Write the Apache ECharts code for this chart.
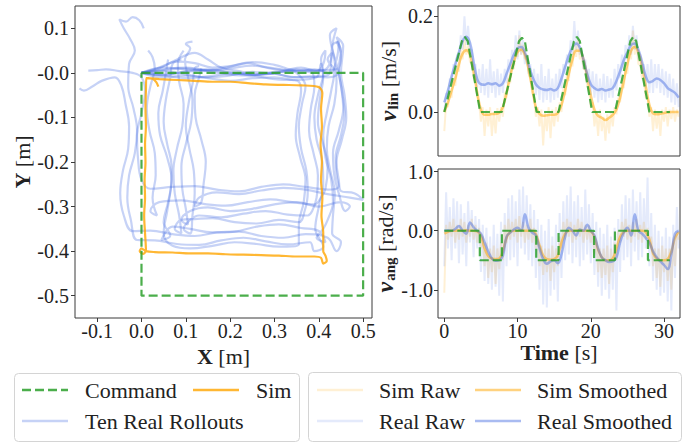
<!DOCTYPE html>
<html><head><meta charset="utf-8">
<script src="https://cdn.jsdelivr.net/npm/echarts@6/dist/echarts.min.js"></script>
<style>html,body{margin:0;padding:0;background:#fff}#c{width:697px;height:443px}</style>
</head><body><div id="c"></div>
<script>
// ---------- tick values / labels ----------
const XY_X_TICKS = [-0.1, 0, 0.1, 0.2, 0.3, 0.4, 0.5];
const XY_X_LABELS = ['-0.1', '0.0', '0.1', '0.2', '0.3', '0.4', '0.5'];
const XY_Y_TICKS = [0.1, 0, -0.1, -0.2, -0.3, -0.4, -0.5];
const XY_Y_LABELS = ['0.1', '-0.0', '-0.1', '-0.2', '-0.3', '-0.4', '-0.5'];
const TIME_TICKS = [0, 10, 20, 30];
const TIME_LABELS = ['0', '10', '20', '30'];
const VLIN_TICKS = [0, 0.2];
const VLIN_LABELS = ['0.0', '0.2'];
const VANG_TICKS = [1, 0, -1];
const VANG_LABELS = ['1.0', '0.0', '-1.0'];

// ---------- XY trajectories ----------
const commandXY = [[0,0],[0.5,0],[0.5,-0.5],[0,-0.5],[0,0]];
const simXY = [[0.011,-0.012],[0.04,-0.014],[0.08,-0.016],[0.12,-0.018],[0.16,-0.02],[0.2,-0.02],[0.24,-0.023],[0.28,-0.026],[0.32,-0.027],[0.36,-0.028],[0.4,-0.032],[0.408,-0.045],[0.405,-0.08],[0.407,-0.12],[0.404,-0.16],[0.407,-0.2],[0.405,-0.24],[0.408,-0.28],[0.406,-0.32],[0.41,-0.36],[0.41,-0.4],[0.415,-0.41],[0.418,-0.422],[0.41,-0.428],[0.405,-0.415],[0.39,-0.412],[0.35,-0.412],[0.31,-0.41],[0.27,-0.409],[0.23,-0.408],[0.19,-0.407],[0.15,-0.405],[0.11,-0.405],[0.07,-0.403],[0.03,-0.402],[0.01,-0.4],[0.0,-0.394],[-0.004,-0.4],[0.004,-0.406],[0.01,-0.398],[0.008,-0.36],[0.006,-0.32],[0.008,-0.28],[0.007,-0.24],[0.009,-0.2],[0.008,-0.16],[0.01,-0.12],[0.009,-0.08],[0.01,-0.04],[0.011,-0.012],[0.025,-0.013],[0.034,-0.022],[0.038,-0.031]];
const realRollout1 = [[0,0],[0.05,0.006],[0.1,0.01],[0.15,0.004],[0.2,-0.004],[0.25,-0.006],[0.3,0.0],[0.35,0.008],[0.4,0.004],[0.42,0.012],[0.43,0.045],[0.42,0.03],[0.435,0.005],[0.428,-0.04],[0.418,-0.09],[0.41,-0.14],[0.415,-0.19],[0.428,-0.24],[0.432,-0.29],[0.42,-0.33],[0.41,-0.35],[0.395,-0.37],[0.415,-0.38],[0.4,-0.355],[0.36,-0.348],[0.31,-0.34],[0.26,-0.345],[0.21,-0.356],[0.16,-0.358],[0.11,-0.35],[0.07,-0.345],[0.045,-0.375],[0.065,-0.365],[0.05,-0.335],[0.06,-0.29],[0.068,-0.24],[0.058,-0.19],[0.042,-0.14],[0.038,-0.09],[0.048,-0.04],[0.055,0.0],[0.06,0.03]];
const realRollout2 = [[0,0],[0.04,0.012],[0.08,0.025],[0.12,0.022],[0.16,0.012],[0.2,0.015],[0.25,0.024],[0.3,0.018],[0.35,0.006],[0.39,0.008],[0.425,0.0],[0.44,0.03],[0.445,0.07],[0.43,0.06],[0.44,0.02],[0.45,-0.03],[0.455,-0.08],[0.445,-0.13],[0.432,-0.18],[0.435,-0.23],[0.445,-0.27],[0.46,-0.31],[0.47,-0.3],[0.45,-0.29],[0.4,-0.3],[0.35,-0.29],[0.3,-0.295],[0.25,-0.305],[0.2,-0.31],[0.15,-0.302],[0.11,-0.31],[0.09,-0.33],[0.105,-0.34],[0.1,-0.305],[0.092,-0.26],[0.09,-0.21],[0.1,-0.16],[0.112,-0.11],[0.115,-0.06],[0.105,-0.01],[0.098,0.03],[0.11,0.055],[0.1,0.065],[0.115,0.07]];
const realRollout3 = [[0,0],[0.05,-0.006],[0.1,-0.012],[0.15,-0.008],[0.2,-0.002],[0.25,-0.006],[0.3,-0.014],[0.35,-0.016],[0.395,-0.01],[0.405,0.02],[0.41,0.0],[0.398,-0.05],[0.39,-0.1],[0.395,-0.15],[0.408,-0.2],[0.41,-0.25],[0.4,-0.3],[0.392,-0.35],[0.41,-0.39],[0.39,-0.4],[0.38,-0.38],[0.33,-0.385],[0.28,-0.378],[0.23,-0.37],[0.18,-0.376],[0.13,-0.386],[0.08,-0.384],[0.03,-0.376],[-0.01,-0.375],[-0.024,-0.33],[-0.032,-0.28],[-0.028,-0.23],[-0.015,-0.18],[-0.01,-0.13],[-0.018,-0.08],[-0.03,-0.03],[-0.028,0.02],[-0.015,0.05],[-0.025,0.075],[-0.04,0.1],[-0.05,0.12],[-0.035,0.115],[-0.02,0.125],[-0.005,0.118],[0.005,0.1]];
const realRollout4 = [[0,0],[0.04,0.01],[0.08,0.03],[0.12,0.045],[0.15,0.03],[0.18,0.012],[0.22,0.004],[0.26,-0.004],[0.3,-0.002],[0.34,-0.01],[0.38,-0.008],[0.42,-0.01],[0.445,0.0],[0.45,0.04],[0.44,0.08],[0.455,0.06],[0.45,0.0],[0.458,-0.05],[0.462,-0.1],[0.452,-0.15],[0.44,-0.2],[0.445,-0.24],[0.45,-0.265],[0.48,-0.27],[0.5,-0.285],[0.47,-0.28],[0.42,-0.272],[0.37,-0.262],[0.32,-0.258],[0.27,-0.264],[0.22,-0.272],[0.17,-0.268],[0.13,-0.28],[0.12,-0.3],[0.135,-0.29],[0.14,-0.25],[0.145,-0.2],[0.135,-0.15],[0.122,-0.1],[0.12,-0.05],[0.13,-0.01],[0.135,0.01]];
const realRollout5 = [[0,0],[0.05,-0.005],[0.1,0.004],[0.15,0.008],[0.2,0.002],[0.25,-0.004],[0.3,0.0],[0.34,0.004],[0.36,-0.01],[0.37,-0.03],[0.362,-0.07],[0.355,-0.12],[0.36,-0.17],[0.372,-0.22],[0.375,-0.27],[0.368,-0.31],[0.355,-0.335],[0.31,-0.33],[0.26,-0.338],[0.21,-0.335],[0.16,-0.326],[0.12,-0.328],[0.09,-0.33],[0.075,-0.35],[0.09,-0.36],[0.085,-0.32],[0.075,-0.27],[0.072,-0.22],[0.08,-0.17],[0.092,-0.12],[0.095,-0.07],[0.085,-0.02],[0.082,0.02],[0.095,0.05]];
const realRollout6 = [[0,0],[0.05,0.004],[0.1,-0.004],[0.15,-0.01],[0.2,-0.006],[0.25,0.002],[0.3,-0.002],[0.35,-0.01],[0.4,-0.008],[0.425,0.0],[0.43,0.06],[0.44,0.1],[0.425,0.085],[0.435,0.03],[0.44,-0.02],[0.435,-0.07],[0.422,-0.12],[0.418,-0.17],[0.426,-0.22],[0.436,-0.27],[0.432,-0.32],[0.43,-0.36],[0.45,-0.38],[0.44,-0.4],[0.42,-0.37],[0.37,-0.362],[0.32,-0.37],[0.27,-0.366],[0.22,-0.356],[0.17,-0.358],[0.12,-0.366],[0.07,-0.362],[0.02,-0.354],[-0.02,-0.355],[-0.04,-0.32],[-0.048,-0.27],[-0.042,-0.22],[-0.03,-0.17],[-0.028,-0.12],[-0.036,-0.07],[-0.045,-0.03],[-0.06,-0.01],[-0.09,-0.018],[-0.11,-0.03],[-0.13,-0.04],[-0.14,-0.035]];
const realRollout7 = [[0,0],[0.05,0.008],[0.1,0.012],[0.15,0.006],[0.2,0.014],[0.24,0.022],[0.28,0.012],[0.32,0.006],[0.36,0.012],[0.395,0.004],[0.41,0.02],[0.415,0.05],[0.405,0.03],[0.41,-0.01],[0.402,-0.06],[0.398,-0.11],[0.41,-0.16],[0.42,-0.21],[0.415,-0.26],[0.405,-0.28],[0.39,-0.295],[0.34,-0.29],[0.29,-0.284],[0.24,-0.29],[0.19,-0.298],[0.14,-0.294],[0.09,-0.286],[0.04,-0.29],[0.02,-0.31],[0.035,-0.32],[0.025,-0.28],[0.032,-0.23],[0.03,-0.18],[0.018,-0.13],[0.012,-0.08],[0.02,-0.03],[0.03,0.01],[0.025,0.035],[0.015,0.05]];
const realRollout8 = [[0,0],[0.05,-0.004],[0.1,0.002],[0.15,0.006],[0.2,0.0],[0.25,-0.004],[0.3,0.002],[0.35,0.004],[0.385,0.0],[0.39,-0.03],[0.382,-0.08],[0.378,-0.13],[0.388,-0.18],[0.398,-0.23],[0.395,-0.28],[0.385,-0.31],[0.375,-0.32],[0.33,-0.318],[0.28,-0.31],[0.23,-0.316],[0.18,-0.324],[0.13,-0.32],[0.11,-0.33],[0.095,-0.35],[0.11,-0.36],[0.115,-0.32],[0.12,-0.27],[0.118,-0.22],[0.108,-0.17],[0.1,-0.12],[0.106,-0.07],[0.116,-0.02],[0.12,0.01],[0.13,0.015]];
const realRollout9 = [[0,0],[0.05,0.012],[0.1,0.008],[0.15,0.004],[0.2,0.01],[0.25,0.016],[0.3,0.01],[0.35,0.004],[0.4,0.006],[0.44,0.008],[0.45,0.04],[0.44,0.07],[0.45,0.05],[0.445,0.01],[0.452,-0.04],[0.458,-0.09],[0.45,-0.14],[0.438,-0.19],[0.44,-0.23],[0.445,-0.255],[0.42,-0.262],[0.37,-0.256],[0.32,-0.25],[0.27,-0.256],[0.22,-0.266],[0.17,-0.262],[0.12,-0.254],[0.07,-0.256],[0.02,-0.26],[0.0,-0.24],[-0.008,-0.19],[-0.01,-0.14],[0.0,-0.09],[0.008,-0.04],[0.0,-0.01],[-0.02,0.0],[-0.05,0.004],[-0.08,0.008],[-0.1,0.006],[-0.12,0.005]];
const realRollout10 = [[0,0],[0.05,-0.01],[0.1,-0.006],[0.15,-0.012],[0.2,-0.018],[0.25,-0.012],[0.3,-0.01],[0.34,-0.016],[0.355,-0.02],[0.36,-0.04],[0.352,-0.09],[0.348,-0.14],[0.358,-0.19],[0.37,-0.24],[0.366,-0.29],[0.355,-0.34],[0.355,-0.385],[0.31,-0.39],[0.26,-0.384],[0.21,-0.38],[0.16,-0.388],[0.11,-0.394],[0.07,-0.388],[0.05,-0.36],[0.058,-0.31],[0.066,-0.26],[0.068,-0.21],[0.058,-0.16],[0.05,-0.11],[0.055,-0.06],[0.065,-0.01],[0.07,0.02],[0.09,0.03]];

// ---------- time series ----------
const RAW_DT = 0.25;     // sampling step of raw signals [s]
const SMOOTH_DT = 0.5;   // sampling step of smoothed signals [s]
const commandVlin = [[0,0],[2.4,0.148],[2.8,0.157],[3.2,0.148],[4.9,0],[7.86,0],[10.2,0.148],[10.6,0.155],[11.0,0.148],[12.6,0],[15.6,0],[17.7,0.148],[18.1,0.157],[18.5,0.148],[20.2,0],[23.3,0],[25.4,0.148],[25.8,0.157],[26.2,0.148],[28.0,0],[30.8,0]];
const commandVang = [[0,0],[4.85,0],[4.85,-0.5],[7.86,-0.5],[7.86,0],[12.55,0],[12.55,-0.5],[15.6,-0.5],[15.6,0],[20.45,0],[20.45,-0.5],[23.3,-0.5],[23.3,0],[27.8,0],[27.8,-0.5],[30.8,-0.5]];
const simVlinRaw = [-0.04,0.02,0.01,0.04,0.03,0.07,0.055,0.09,0.085,0.13,
0.11,0.15,0.12,0.14,0.105,0.1,0.07,0.075,0.03,0.02,
-0.02,0.01,-0.05,0.005,-0.03,0.01,-0.05,0.0,-0.045,0.008,
-0.02,0.01,-0.01,0.04,0.03,0.07,0.06,0.1,0.09,0.13,
0.115,0.16,0.12,0.14,0.11,0.12,0.08,0.07,0.04,0.03,
-0.01,0.01,-0.03,0.005,-0.07,0.0,-0.04,0.01,-0.055,0.005,
-0.03,0.01,-0.02,0.02,0.0,0.05,0.035,0.08,0.065,0.11,
0.095,0.14,0.115,0.15,0.11,0.12,0.09,0.09,0.055,0.05,
0.01,0.02,-0.03,0.0,-0.05,0.005,-0.04,-0.01,-0.06,-0.005,
-0.045,0.0,-0.03,0.01,-0.005,0.03,0.02,0.06,0.05,0.09,
0.08,0.13,0.11,0.17,0.12,0.14,0.1,0.1,0.07,0.065,
0.03,0.03,-0.01,0.01,-0.04,0.005,-0.035,0.0,-0.05,0.005,
-0.02,0.01,-0.03,0.005,-0.015,0.01,-0.02,0.005,-0.01];
const realVlinRaw = [0.0,0.04,0.03,0.07,0.06,0.1,0.09,0.12,0.11,0.16,
0.13,0.2,0.14,0.18,0.13,0.13,0.09,0.1,0.05,0.09,
0.04,0.1,0.035,0.09,0.03,0.11,0.04,0.085,0.03,0.09,
0.035,0.08,0.04,0.09,0.06,0.11,0.08,0.13,0.1,0.16,
0.11,0.17,0.12,0.15,0.1,0.12,0.08,0.1,0.05,0.09,
0.035,0.08,0.025,0.1,0.02,0.075,0.025,0.09,0.02,0.07,
0.025,0.08,0.03,0.09,0.05,0.1,0.08,0.12,0.1,0.15,
0.12,0.19,0.13,0.17,0.12,0.13,0.09,0.11,0.06,0.09,
0.035,0.085,0.03,0.08,0.02,0.07,0.025,0.08,0.02,0.075,
0.03,0.07,0.03,0.09,0.045,0.1,0.07,0.12,0.09,0.14,
0.11,0.16,0.12,0.18,0.13,0.16,0.11,0.12,0.08,0.1,
0.05,0.1,0.04,0.11,0.04,0.1,0.05,0.1,0.04,0.09,
0.035,0.085,0.03,0.08,0.02,0.07,0.015,0.06,0.01];
const simVangRaw = [-1.05,0.1,-0.15,0.15,-0.1,0.2,-0.2,0.1,-0.15,0.2,
-0.1,0.15,-0.2,0.1,-0.1,0.2,-0.15,0.1,-0.2,0.05,
-0.3,-0.1,-0.6,-0.2,-0.8,-0.3,-0.7,-0.25,-0.9,-0.3,
-0.65,-0.2,-0.5,0.1,-0.2,0.2,-0.15,0.15,-0.1,0.2,
-0.2,0.25,-0.1,0.15,-0.2,0.1,-0.15,0.2,-0.2,0.05,
-0.3,-0.15,-0.6,-0.25,-0.75,-0.3,-0.7,-0.3,-0.85,-0.25,
-0.7,-0.3,-0.6,-0.1,-0.3,0.15,-0.15,0.2,-0.1,0.15,
-0.2,0.1,-0.15,0.2,-0.1,0.15,-0.2,0.1,-0.15,0.1,
-0.2,0.0,-0.4,-0.2,-0.7,-0.3,-0.8,-0.3,-0.75,-0.25,
-0.9,-0.3,-0.7,-0.2,-0.5,0.0,-0.2,0.15,-0.1,0.2,
-0.15,0.1,-0.2,0.15,-0.1,0.2,-0.15,0.1,-0.2,0.15,
-0.15,0.05,-0.3,-0.1,-0.6,-0.3,-0.8,-0.3,-0.95,-0.25,
-0.7,-0.3,-0.85,-0.3,-1.0,-0.2,-0.6,-0.05,-0.15];
const realVangRaw = [-0.6,0.65,-0.3,0.4,-0.5,0.55,-0.3,0.5,-0.55,0.45,
-0.4,0.3,-0.6,0.5,-0.2,0.35,-0.45,0.25,-0.3,0.2,
-0.7,0.1,-0.85,0.05,-0.9,-0.1,-1.0,0.1,-0.95,-0.05,
-1.1,0.15,-1.2,0.3,-0.6,0.55,-0.5,0.6,-0.45,0.5,
-0.6,0.7,-0.3,0.75,-0.4,0.6,-0.5,0.45,-0.6,0.35,
-0.8,0.2,-1.0,0.1,-1.25,0.0,-1.3,0.2,-1.1,-0.1,
-1.0,0.1,-1.2,0.3,-0.8,0.5,-0.5,0.6,-0.4,0.75,
-0.55,0.5,-0.45,0.6,-0.6,0.4,-0.5,0.7,-0.4,0.45,
-0.55,0.3,-0.75,0.15,-0.95,0.05,-1.1,-0.05,-1.0,0.1,
-1.15,-0.1,-1.0,0.05,-1.35,0.2,-0.7,0.45,-0.5,0.6,
-0.45,0.55,-0.6,0.7,-0.35,0.5,-0.5,0.65,-0.45,0.55,
-0.3,0.9,-0.6,0.3,-0.85,0.1,-1.0,0.0,-1.1,-0.1,
-1.05,0.05,-1.2,-0.1,-1.35,0.1,-0.8,0.4,-0.3];
const simVlinSmooth = [0,0.02,0.045,0.07,0.1,0.122,0.129,0.12,0.085,0.04,
0.005,-0.006,-0.006,-0.004,-0.004,-0.002,0.01,0.04,0.075,0.105,
0.125,0.13,0.12,0.09,0.05,0.01,-0.004,-0.008,-0.007,-0.006,
-0.006,-0.002,0.015,0.045,0.08,0.11,0.128,0.128,0.11,0.075,
0.035,0.005,-0.008,-0.012,-0.017,-0.012,-0.006,0.005,0.03,0.065,
0.1,0.128,0.136,0.125,0.095,0.055,0.015,-0.003,-0.005,-0.004,
-0.002,-0.001,0.0,0.0,0.0];
const realVlinSmooth = [0.02,0.045,0.075,0.1,0.125,0.148,0.157,0.145,0.105,0.068,
0.058,0.057,0.06,0.058,0.06,0.055,0.06,0.08,0.1,0.12,
0.133,0.136,0.125,0.1,0.075,0.058,0.05,0.047,0.046,0.048,
0.045,0.05,0.07,0.095,0.118,0.135,0.143,0.135,0.11,0.08,
0.058,0.05,0.046,0.048,0.045,0.047,0.05,0.065,0.085,0.108,
0.125,0.14,0.143,0.13,0.105,0.075,0.062,0.065,0.07,0.067,
0.06,0.05,0.045,0.04,0.03];
const simVangSmooth = [-0.05,-0.02,0.0,0.0,0.01,0.0,0.01,0.0,0.0,-0.01,
-0.08,-0.3,-0.43,-0.47,-0.48,-0.47,-0.35,-0.12,-0.02,0.0,
0.0,0.01,0.0,0.0,0.0,-0.05,-0.25,-0.42,-0.48,-0.49,
-0.48,-0.42,-0.2,-0.05,0.0,0.0,0.0,0.01,0.0,0.0,
-0.01,-0.1,-0.32,-0.45,-0.5,-0.5,-0.47,-0.3,-0.1,-0.02,
0.0,0.0,0.0,0.0,0.0,-0.02,-0.15,-0.38,-0.47,-0.5,
-0.5,-0.48,-0.35,-0.12,-0.02];
const realVangSmooth = [0.0,0.01,0.0,0.03,0.08,0.0,-0.05,0.14,0.06,0.0,
-0.05,-0.2,-0.35,-0.47,-0.51,-0.5,-0.42,-0.1,-0.03,0.02,
0.05,0.0,0.28,0.05,-0.03,-0.08,-0.3,-0.48,-0.56,-0.52,
-0.5,-0.55,-0.4,-0.1,0.05,0.0,-0.08,0.02,0.0,0.1,
0.0,-0.08,-0.3,-0.45,-0.5,-0.53,-0.52,-0.45,-0.2,-0.03,
0.05,-0.08,0.28,0.0,-0.05,-0.12,-0.2,-0.35,-0.45,-0.52,
-0.58,-0.65,-0.4,-0.05,0.0];

// ---------- styling ----------
const FONT = '"Liberation Serif", "Times New Roman", serif';
const TXT = '#222';
const FRAME = '#3a3a3a';
const C_CMD = 'rgba(44,160,44,0.85)';
const C_SIM = 'rgba(255,165,0,0.8)';
const C_REAL = 'rgba(65,105,225,0.3)';
const C_SIM_RAW = 'rgba(255,165,0,0.17)';
const C_SIM_SM = 'rgba(255,165,0,0.5)';
const C_REAL_RAW = 'rgba(65,105,225,0.14)';
const C_REAL_SM = 'rgba(65,105,225,0.45)';
const DASH = [9, 4];

const withTime = (arr, dt) => arr.map((v, i) => [+(i * dt).toFixed(3), v]);

function lab(ticks, labels) {
  return v => { for (let i = 0; i < ticks.length; i++) if (Math.abs(ticks[i] - v) < 1e-9) return labels[i]; return ''; };
}
function axis(gridIndex, min, max, ticks, labels, margin, extra) {
  const a = {
    type: 'value', gridIndex, min, max,
    axisLine: { show: false, onZero: false },
    axisTick: { show: true, length: 4, customValues: ticks, lineStyle: { color: FRAME, width: 1 } },
    axisLabel: { customValues: ticks, formatter: lab(ticks, labels), fontFamily: FONT, fontSize: 20, color: TXT, margin },
    splitLine: { show: false }
  };
  if (extra) {
    for (const k in extra) a[k] = (typeof extra[k] === 'object' && a[k]) ? Object.assign({}, a[k], extra[k]) : extra[k];
  }
  return a;
}
const nameRich = {
  b: { fontFamily: FONT, fontSize: 22, fontWeight: 'bold', color: TXT },
  v: { fontFamily: FONT, fontSize: 24, fontWeight: 'bold', fontStyle: 'italic', color: TXT },
  s: { fontFamily: FONT, fontSize: 15, fontWeight: 'bold', color: TXT, padding: [9, 0, 0, 1] }
};
const nameStyle = { fontFamily: FONT, fontSize: 22, color: TXT, rich: nameRich };

function line(name, data, xi, color, width, dash, z, smooth) {
  return { type: 'line', name, data, xAxisIndex: xi, yAxisIndex: xi, showSymbol: false, symbol: 'none',
    smooth: smooth || false, lineStyle: { color, width, type: dash || 'solid' }, z, silent: true, animation: false };
}

const series = [];
[realRollout1, realRollout2, realRollout3, realRollout4, realRollout5, realRollout6, realRollout7, realRollout8, realRollout9, realRollout10]
  .forEach(r => series.push(line('Ten Real Rollouts', r, 0, C_REAL, 2.2, null, 2, 0.4)));
series.push(line('Sim', simXY, 0, C_SIM, 2.2, null, 3, 0.3));
series.push(line('Command', commandXY, 0, C_CMD, 2.2, DASH, 4));

series.push(line('Sim Raw', withTime(simVlinRaw, RAW_DT), 1, C_SIM_RAW, 2, null, 2));
series.push(line('Real Raw', withTime(realVlinRaw, RAW_DT), 1, C_REAL_RAW, 2, null, 2));
series.push(line('Sim Smoothed', withTime(simVlinSmooth, SMOOTH_DT), 1, C_SIM_SM, 2.5, null, 3, 0.4));
series.push(line('Real Smoothed', withTime(realVlinSmooth, SMOOTH_DT), 1, C_REAL_SM, 2.5, null, 3, 0.4));
series.push(line('Command', commandVlin, 1, C_CMD, 2.2, DASH, 4));

series.push(line('Sim Raw', withTime(simVangRaw, RAW_DT), 2, C_SIM_RAW, 2, null, 2));
series.push(line('Real Raw', withTime(realVangRaw, RAW_DT), 2, C_REAL_RAW, 2, null, 2));
series.push(line('Sim Smoothed', withTime(simVangSmooth, SMOOTH_DT), 2, C_SIM_SM, 2.5, null, 3, 0.4));
series.push(line('Real Smoothed', withTime(realVangSmooth, SMOOTH_DT), 2, C_REAL_SM, 2.5, null, 3, 0.4));
series.push(line('Command', commandVang, 2, C_CMD, 2.2, DASH, 4));

const gridBase = { show: true, borderColor: FRAME, borderWidth: 1, backgroundColor: 'transparent', containLabel: false };

// legend built from graphic primitives
function legendItem(x1, y, color, dash, text, tx) {
  return [
    { type: 'line', shape: { x1: x1, y1: y, x2: x1 + 46, y2: y }, style: { stroke: color, lineWidth: 2.5, lineDash: dash || null }, z: 100 },
    { type: 'text', x: tx, y: y, style: { text, font: '22px ' + FONT, fill: TXT, verticalAlign: 'middle', align: 'left' }, z: 100 }
  ];
}
const graphic = [
  { type: 'rect', shape: { x: 14.5, y: 373.5, width: 285, height: 68, r: 4 }, style: { fill: '#fff', stroke: '#d4d4d4', lineWidth: 1 }, z: 99 },
  ...legendItem(22, 390, C_CMD, DASH, 'Command', 85),
  ...legendItem(193, 390, C_SIM, null, 'Sim', 256),
  ...legendItem(22, 421, C_REAL, null, 'Ten Real Rollouts', 85),
  { type: 'rect', shape: { x: 308.5, y: 372.5, width: 373, height: 69, r: 4 }, style: { fill: '#fff', stroke: '#d4d4d4', lineWidth: 1 }, z: 99 },
  ...legendItem(317, 390, C_SIM_RAW, null, 'Sim Raw', 379),
  ...legendItem(475, 390, C_SIM_SM, null, 'Sim Smoothed', 537),
  ...legendItem(317, 421, C_REAL_RAW, null, 'Real Raw', 379),
  ...legendItem(475, 421, C_REAL_SM, null, 'Real Smoothed', 537)
];

const chart = echarts.init(document.getElementById('c'), null, { renderer: 'svg', width: 697, height: 443 });
chart.setOption({
  animation: false,
  backgroundColor: '#fff',
  grid: [
    Object.assign({ left: 75, top: 6, width: 297, height: 312 }, gridBase),
    Object.assign({ left: 438, top: 6, width: 242, height: 150 }, gridBase),
    Object.assign({ left: 438, top: 169, width: 242, height: 149 }, gridBase)
  ],
  xAxis: [
    axis(0, -0.15, 0.52, XY_X_TICKS, XY_X_LABELS, 3, { name: '{b|X} [m]', nameLocation: 'middle', nameGap: 24, nameTextStyle: nameStyle }),
    axis(1, -0.86, 32.18, TIME_TICKS, TIME_LABELS, 3, { axisLabel: { show: false }, axisTick: { show: false } }),
    axis(2, -0.86, 32.18, TIME_TICKS, TIME_LABELS, 3, { name: '{b|Time} [s]', nameLocation: 'middle', nameGap: 22, nameTextStyle: nameStyle })
  ],
  yAxis: [
    axis(0, -0.55, 0.15, XY_Y_TICKS, XY_Y_LABELS, 6, { name: '{b|Y} [m]', nameLocation: 'middle', nameGap: 40, nameTextStyle: nameStyle }),
    axis(1, -0.092, 0.2215, VLIN_TICKS, VLIN_LABELS, 5, { name: '{v|v}{s|lin} [m/s]', nameLocation: 'middle', nameGap: 38, nameTextStyle: nameStyle }),
    axis(2, -1.478, 1.046, VANG_TICKS, VANG_LABELS, 5, { name: '{v|v}{s|ang} [rad/s]', nameLocation: 'middle', nameGap: 38, nameTextStyle: nameStyle })
  ],
  series,
  graphic
});
</script></body></html>
